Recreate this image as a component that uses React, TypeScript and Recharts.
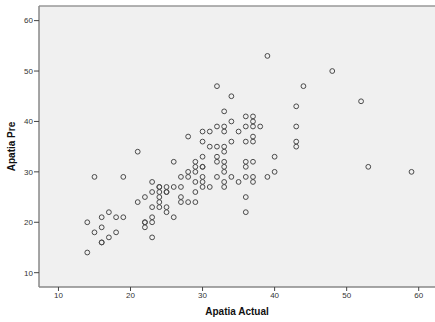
import {
  ScatterChart,
  Scatter,
  XAxis,
  YAxis,
  CartesianGrid,
  ReferenceLine,
} from "recharts";

// Apatia Actual (x) and Apatia Pre (y), one entry per case
const apatiaActual = [
  14, 14, 15, 15, 16, 16, 16, 16, 17, 17, 18, 18, 19, 19, 21, 21, 22, 22, 22, 22,
  23, 23, 23, 23, 23, 23, 24, 24, 24, 24, 24, 24, 25, 25, 25, 25, 25, 26, 26, 26,
  27, 27, 27, 27, 28, 28, 28, 28, 29, 29, 29, 29, 29, 29, 30, 30, 30, 30, 30, 30,
  30, 30, 31, 31, 31, 32, 32, 32, 32, 32, 32, 33, 33, 33, 33, 33, 33, 33, 33, 33,
  33, 34, 34, 34, 34, 35, 35, 36, 36, 36, 36, 36, 36, 36, 36, 37, 37, 37, 37, 37,
  37, 37, 37, 38, 39, 39, 40, 40, 43, 43, 43, 43, 44, 48, 52, 53, 59,
];
const apatiaPre = [
  20, 14, 29, 18, 21, 19, 16, 16, 22, 17, 21, 18, 29, 21, 34, 24, 25, 20, 20, 19,
  28, 26, 23, 21, 20, 17, 27, 27, 26, 25, 24, 23, 27, 26, 26, 23, 22, 32, 27, 21,
  29, 27, 25, 24, 37, 30, 29, 24, 32, 31, 30, 28, 26, 24, 38, 36, 33, 31, 31, 29,
  28, 27, 38, 35, 27, 47, 39, 35, 33, 32, 29, 42, 39, 38, 35, 34, 32, 31, 30, 28,
  27, 45, 40, 36, 29, 38, 28, 41, 39, 36, 32, 31, 29, 25, 22, 41, 40, 39, 37, 36,
  32, 29, 28, 39, 53, 29, 33, 30, 43, 39, 36, 35, 47, 50, 44, 31, 30,
];

const xTicks = [10, 20, 30, 40, 50, 60];
const yTicks = [10, 20, 30, 40, 50, 60];

const xDomain: [number, number] = [7.3, 62.26];
const yDomain: [number, number] = [7.16, 62.9];

const points = apatiaActual.map((x, i) => ({ actual: x, pre: apatiaPre[i] }));

const font = '"Liberation Sans", Arial, sans-serif';
const tickStyle = { fontSize: 8, fill: "#333", fontFamily: font };

const OpenCircle = (props: any) => (
  <circle
    cx={props.cx}
    cy={props.cy}
    r={2.4}
    fill="none"
    stroke="#4a4a4a"
    strokeWidth={1}
  />
);

export default function App() {
  return (
    <div style={{ width: 435, height: 322, background: "#fff" }}>
      <style>{`body{margin:0}`}</style>
      <ScatterChart
        width={435}
        height={322}
        margin={{ top: 6, right: 0, bottom: 0, left: 0 }}
      >
        <CartesianGrid
          fill="#f0f0f0"
          horizontal={false}
          vertical={false}
        />
        <XAxis
          type="number"
          dataKey="actual"
          domain={xDomain}
          ticks={xTicks}
          height={35}
          tick={tickStyle}
          tickSize={4}
          tickMargin={1}
          tickLine={{ stroke: "#444" }}
          axisLine={{ stroke: "#888", strokeWidth: 1.5 }}
          label={{
            value: "Apatia Actual",
            position: "insideBottom",
            offset: 7,
            style: { fontSize: 10, fontWeight: "bold", fill: "#111", fontFamily: font },
          }}
        />
        <YAxis
          type="number"
          dataKey="pre"
          domain={yDomain}
          ticks={yTicks}
          width={39}
          tick={tickStyle}
          tickSize={5}
          tickMargin={1}
          tickLine={{ stroke: "#444" }}
          axisLine={{ stroke: "#888", strokeWidth: 1.5 }}
          label={{
            value: "Apatia Pre",
            angle: -90,
            position: "insideLeft",
            offset: 11,
            style: {
              fontSize: 10,
              fontWeight: "bold",
              fill: "#111",
              fontFamily: font,
              textAnchor: "middle",
            },
          }}
        />
        <ReferenceLine y={yDomain[1]} stroke="#999" strokeWidth={1.5} />
        <Scatter
          data={points}
          shape={<OpenCircle />}
          isAnimationActive={false}
        />
      </ScatterChart>
    </div>
  );
}
